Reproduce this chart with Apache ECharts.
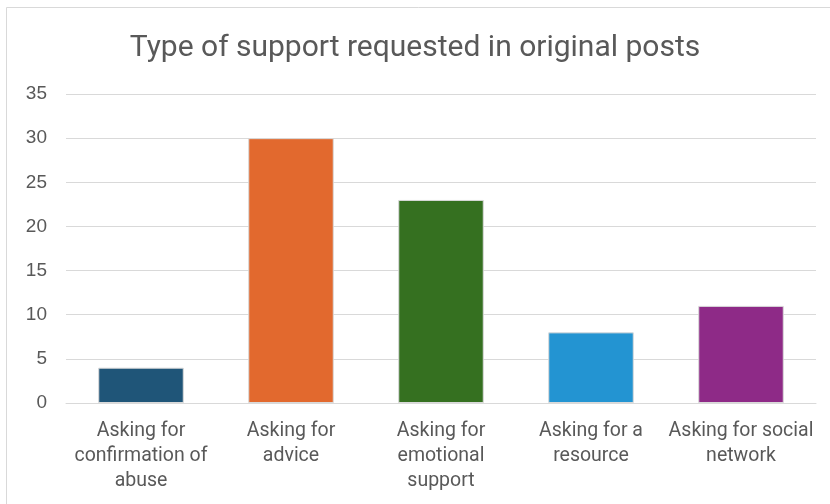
<!DOCTYPE html>
<html>
<head>
<meta charset="utf-8">
<script src="https://cdn.jsdelivr.net/npm/echarts@6/dist/echarts.min.js"></script>
<style>
  html, body { margin: 0; padding: 0; background: #fff; }
  #chart { width: 830px; height: 504px; }
</style>
</head>
<body>
<div id="chart"></div>
<script>
// data
const categories = [
  'Asking for\nconfirmation of\nabuse',
  'Asking for\nadvice',
  'Asking for\nemotional\nsupport',
  'Asking for a\nresource',
  'Asking for social\nnetwork'
];
const values = [4, 30, 23, 8, 11];
const barColors = ['#1f5578', '#e2692e', '#357020', '#2394d2', '#8e2a87'];
const yTicks = [0, 5, 10, 15, 20, 25, 30, 35];

const chart = echarts.init(document.getElementById('chart'), null, { renderer: 'canvas' });

const option = {
  backgroundColor: '#fff',
  animation: false,
  title: {
    text: 'Type of support requested in original posts',
    left: 'center',
    top: 28,
    textStyle: {
      fontFamily: 'Roboto, sans-serif',
      fontWeight: 'normal',
      fontSize: 30,
      color: '#595959'
    }
  },
  graphic: [{
    type: 'rect',
    shape: { x: 6.5, y: 7.5, width: 840, height: 520 },
    style: { fill: 'none', stroke: '#d9d9d9', lineWidth: 1 },
    silent: true
  }],
  grid: { left: 66, right: 14, top: 94, bottom: 101 },
  xAxis: {
    type: 'category',
    data: categories,
    axisLine: { show: true, lineStyle: { color: '#d9d9d9', width: 1 } },
    axisTick: { show: false },
    axisLabel: {
      interval: 0,
      margin: 16,
      color: '#595959',
      fontFamily: 'Roboto, sans-serif',
      fontSize: 19.5,
      lineHeight: 25
    }
  },
  yAxis: {
    type: 'value',
    min: yTicks[0],
    max: yTicks[yTicks.length - 1],
    interval: 5,
    axisLine: { show: false },
    axisTick: { show: false },
    axisLabel: {
      margin: 19,
      color: '#595959',
      fontFamily: 'Liberation Sans, Arial, sans-serif',
      fontSize: 19
    },
    splitLine: { lineStyle: { color: '#d9d9d9', width: 1 } }
  },
  series: [{
    type: 'bar',
    data: values.map((v, i) => ({
      value: v,
      itemStyle: { color: barColors[i] }
    })),
    barWidth: '57%',
    itemStyle: { borderColor: '#d9d9d9', borderWidth: 1 }
  }]
};

chart.setOption(option);
</script>
</body>
</html>
